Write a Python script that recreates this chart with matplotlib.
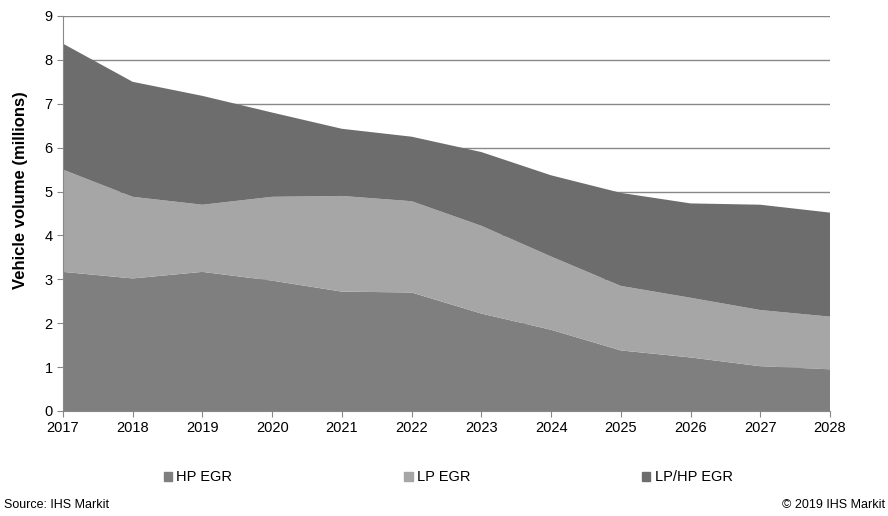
import matplotlib
matplotlib.use("Agg")
import matplotlib.pyplot as plt
from matplotlib.patches import Patch

plt.rcParams["font.family"] = ["Liberation Sans", "DejaVu Sans"]

years = [2017, 2018, 2019, 2020, 2021, 2022, 2023, 2024, 2025, 2026, 2027, 2028]
hp_egr = [3.17, 3.02, 3.17, 2.97, 2.72, 2.70, 2.22, 1.85, 1.38, 1.22, 1.02, 0.95]
lp_egr = [2.33, 1.86, 1.53, 1.91, 2.18, 2.08, 2.00, 1.67, 1.47, 1.36, 1.28, 1.20]
lphp_egr = [2.87, 2.62, 2.48, 1.92, 1.53, 1.47, 1.68, 1.85, 2.12, 2.15, 2.40, 2.37]

labels = ["HP EGR", "LP EGR", "LP/HP EGR"]
colors = ["#7f7f7f", "#a6a6a6", "#6d6d6d"]

fig = plt.figure(figsize=(8.88, 5.16), dpi=100)
ax = fig.add_axes([0.0709, 0.2035, 0.8638, 0.7655])

ax.stackplot(years, hp_egr, lp_egr, lphp_egr, colors=colors, linewidth=0, zorder=2)

ax.set_xlim(2017, 2028)
ax.set_ylim(0, 9)
ax.set_xticks(years)
ax.set_yticks(range(10))
ax.yaxis.grid(True, color="#888888", linewidth=1, zorder=0)
ax.set_axisbelow(True)

for s in ["top", "right"]:
    ax.spines[s].set_visible(False)
for s in ["left", "bottom"]:
    ax.spines[s].set_color("#888888")
    ax.spines[s].set_zorder(3)
ax.tick_params(colors="#888888", labelcolor="black", labelsize=10.5, length=4)

ax.set_ylabel("Vehicle volume (millions)", fontsize=12, fontweight="bold")
ax.yaxis.set_label_coords(-0.045, 0.56)

handles = [Patch(color=c) for c in colors]
fig.legend(handles, labels, loc="center", bbox_to_anchor=(0.505, 0.075), ncol=3,
           frameon=False, fontsize=10.5, handlelength=0.55, handleheight=0.55,
           handletextpad=0.3, columnspacing=11.8)

fig.text(0.004, 0.015, "Source: IHS Markit", fontsize=9)
fig.text(0.997, 0.015, "© 2019 IHS Markit", fontsize=9, ha="right")

fig.savefig("out.png", dpi=100)
